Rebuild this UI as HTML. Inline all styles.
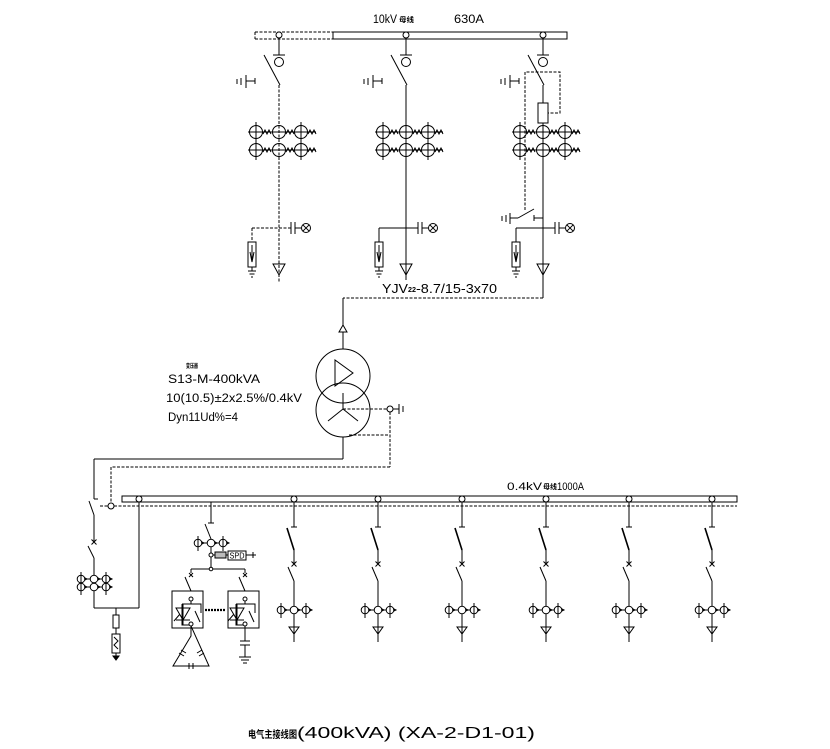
<!DOCTYPE html>
<html><head><meta charset="utf-8">
<style>
html,body{margin:0;padding:0;background:#fff;}
svg{display:block;}
text{font-family:"Liberation Sans","Noto Sans CJK SC",sans-serif;fill:#000;stroke:none;}
</style></head><body>
<svg width="830" height="749" viewBox="0 0 830 749" xmlns="http://www.w3.org/2000/svg">
<defs>
  <g id="ct">
    <line x1="-31" y1="0" x2="37" y2="0"/>
    <circle cx="-23" cy="0" r="6.5"/>
    <circle cx="0" cy="0" r="6.5"/>
    <circle cx="22" cy="0" r="6.5"/>
    <line x1="-23" y1="-10" x2="-23" y2="10"/>
    <line x1="22" y1="-10" x2="22" y2="10"/>
    <polyline points="-16,2 -14,-2 -12,2 -10,-2 -8,2"/>
    <polyline points="7,2 9,-2 11,2 13,-2 15,2"/>
    <polyline points="29,2 31,-2 33,2 35,-2 37,2"/>
  </g>
  <g id="tf">
    <circle cx="0" cy="35" r="3" fill="#fff"/>
    <line x1="0" y1="38" x2="0" y2="55"/>
    <line x1="-6" y1="55" x2="6" y2="55"/>
    <circle cx="0" cy="62" r="4.5"/>
    <line x1="-15" y1="55" x2="1" y2="85"/>
    <path d="M-42,79v5 M-38,78v7 M-33,75v13 M-33,81h9 M-24,78v6"/>
    <use href="#ct" y="132"/>
    <use href="#ct" y="150"/>
    <path d="M12,222v12 M16,222v12 M16,228h6"/>
    <circle cx="27" cy="228" r="4.5"/>
    <path d="M23.8,224.8l6.4,6.4 M30.2,224.8l-6.4,6.4"/>
    <rect x="-31" y="242" width="8" height="25"/>
    <path d="M-27,245v17 M-29,252l2,10 2,-10"/>
    <path d="M-27,267v4 M-31,271h8 M-29.5,274h5 M-28,277h2"/>
    <path d="M-6,264h12l-6,11z"/>
  </g>
  <g id="sct">
    <line x1="-17" y1="0" x2="16" y2="0"/>
    <circle cx="-13" cy="0" r="3.8" fill="#fff"/>
    <circle cx="0" cy="0" r="3.8" fill="#fff"/>
    <circle cx="12" cy="0" r="3.8" fill="#fff"/>
    <line x1="-13" y1="-7" x2="-13" y2="8"/>
    <line x1="12" y1="-7" x2="12" y2="8"/>
    <path d="M-9,-1l2,1 -2,1z M4,-1l2,1 -2,1z M16,-1l2,1 -2,1z" fill="#000"/>
  </g>
  <g id="lf">
    <line x1="0" y1="502" x2="0" y2="527"/>
    <line x1="-3" y1="527" x2="3" y2="527"/>
    <line x1="-7" y1="528" x2="0" y2="550" stroke-width="1.6"/>
    <line x1="0" y1="550" x2="0" y2="564"/>
    <path d="M-2.5,561.5l5,5 M2.5,561.5l-5,5"/>
    <line x1="-6" y1="567" x2="0" y2="581"/>
    <line x1="0" y1="581" x2="0" y2="642"/>
    <use href="#sct" y="610"/>
    <path d="M-5,627h10l-5,7z"/>
    <circle cx="0" cy="499" r="3" fill="#fff"/>
  </g>
  <g id="thy">
    <circle cx="0" cy="8" r="2"/>
    <circle cx="0" cy="33" r="2"/>
    <path d="M0,10v3 M-9,13h19v9 M-9,13v21h7"/>
    <path d="M-15,17h14l-7,12z M-15,29h14 M-8,13v21 M-17,30l6,-7"/>
    <path d="M4,20l5,11"/>
  </g>
</defs>

<g stroke="#000" fill="none" stroke-width="1">
  <path d="M255,32H333 M255,39H333 M255,32V39" stroke-dasharray="3 1.5"/>
  <rect x="333" y="32" width="234" height="7"/>

  <use href="#tf" x="279"/>
  <use href="#tf" x="406"/>
  <use href="#tf" x="543"/>
  <path d="M279,85V282 M252,228H291 M252,228V242" stroke-dasharray="3 1.5"/>
  <path d="M406,85V280 M379,228H418 M379,228V242"/>
  <path d="M543,85V298 M516,228H555 M516,228V242"/>
  <rect x="538" y="103" width="10" height="20" fill="#fff"/>
  <polyline points="525,210 525,72 560,72 560,113 548,113" stroke-dasharray="3 1.5"/>
  <path d="M502,216v5 M506,215v7 M510,213v11 M510,218h8"/>
  <line x1="518" y1="218" x2="534" y2="209"/>
  <path d="M534,215v6 M534,218h9"/>

  <path d="M543,298H343" stroke-dasharray="3 1.5"/>
  <path d="M343,298V349"/>
  <path d="M339,332h8l-4,-7z" fill="#fff"/>

  <circle cx="343" cy="376" r="27"/>
  <circle cx="343" cy="410" r="27"/>
  <path d="M335,360V386L353,373Z"/>
  <path d="M343,393V409 M343,409L328,421 M343,409L358,421"/>
  <path d="M343,409H387" stroke-dasharray="3 1.5"/>
  <circle cx="390" cy="409" r="3" fill="#fff"/>
  <path d="M393,409H399 M399,404V414 M403,406V412"/>
  <path d="M349,435H390 M390,412V467 M390,467H111 M111,467V503" stroke-dasharray="3 1.5"/>
  <path d="M343,437V459 M343,459H94 M94,459V499 M94,499H98"/>

  <rect x="122" y="496" width="615" height="6"/>
  <path d="M100,506H108 M114,506H737" stroke-dasharray="3 1.5"/>
  <circle cx="111" cy="506" r="3" fill="#fff"/>

  <line x1="89" y1="501" x2="94" y2="515"/>
  <line x1="94" y1="515" x2="94" y2="542"/>
  <path d="M91.5,539.5l5,5 M96.5,539.5l-5,5"/>
  <line x1="88" y1="546" x2="94" y2="558"/>
  <line x1="94" y1="558" x2="94" y2="608"/>
  <use href="#sct" x="94" y="579"/>
  <use href="#sct" x="94" y="587"/>
  <path d="M94,608H139 M139,502V608"/>
  <circle cx="139" cy="499" r="3" fill="#fff"/>
  <path d="M116,608V615"/>
  <rect x="113" y="615" width="6" height="13"/>
  <path d="M116,628V634"/>
  <rect x="112" y="634" width="8" height="19"/>
  <path d="M114,637l4,4 -4,4 4,4"/>
  <path d="M116,653V656"/>
  <path d="M113,656h6l-3,4z" fill="#000"/>

  <path d="M211,502V523 M208,523H214"/>
  <line x1="205" y1="524" x2="211" y2="539"/>
  <line x1="211" y1="539" x2="211" y2="569"/>
  <use href="#sct" x="211" y="543"/>
  <circle cx="211" cy="555" r="2" fill="#fff"/>
  <path d="M213,555H215 M226,555H228 M246,555H256 M253,552V558"/>
  <rect x="215" y="552" width="11" height="6" fill="#bbb"/>
  <rect x="228" y="551" width="18" height="9" fill="#fff"/>
  <text x="229.5" y="558.5" font-size="8" textLength="15" lengthAdjust="spacingAndGlyphs">SPD</text>
  <path d="M191,569H245"/>
  <circle cx="211" cy="569" r="1.8" fill="#fff"/>
  <path d="M191,569V573 M245,569V573"/>
  <path d="M189,573l4,4 M193,573l-4,4 M243,573l4,4 M247,573l-4,4"/>
  <line x1="185" y1="577" x2="191" y2="591"/>
  <line x1="239" y1="577" x2="245" y2="591"/>
  <rect x="172" y="591" width="31" height="37"/>
  <rect x="228" y="591" width="31" height="37"/>
  <use href="#thy" x="191" y="591"/>
  <use href="#thy" x="245" y="591"/>
  <path d="M205,610H225" stroke-width="2.2" stroke-dasharray="2 1"/>
  <path d="M191,626V636 L173,666 H209 Z"/>
  <path d="M179,653l5,3 M181,650l5,3 M197,653l5,-3 M199,656l5,-3"/>
  <path d="M189,663v6 M193,663v6" />
  <path d="M245,626V641 M240,641H250 M240,645H250 M245,645V657 M239,657H251 M241,660H249 M243,663H247"/>

  <use href="#lf" x="294"/>
  <use href="#lf" x="378"/>
  <use href="#lf" x="462"/>
  <use href="#lf" x="546"/>
  <use href="#lf" x="629"/>
  <use href="#lf" x="712"/>
</g>

<text x="373" y="23" font-size="11.5" textLength="24" lengthAdjust="spacingAndGlyphs">10kV</text>
<text x="399" y="22" font-size="7" font-weight="bold" textLength="15" lengthAdjust="spacingAndGlyphs">母线</text>
<text x="454" y="23" font-size="11.5" textLength="30" lengthAdjust="spacingAndGlyphs">630A</text>
<text x="382" y="293" font-size="12.5" textLength="26" lengthAdjust="spacingAndGlyphs">YJV</text>
<text x="408" y="292" font-size="7" font-weight="bold" textLength="8" lengthAdjust="spacingAndGlyphs">22</text>
<text x="416" y="293" font-size="12.5" textLength="81" lengthAdjust="spacingAndGlyphs">-8.7/15-3x70</text>
<text x="186" y="368" font-size="6" font-weight="bold" textLength="12" lengthAdjust="spacingAndGlyphs">变压器</text>
<text x="168" y="383" font-size="11.5" textLength="92" lengthAdjust="spacingAndGlyphs">S13-M-400kVA</text>
<text x="166" y="402" font-size="11.5" textLength="136" lengthAdjust="spacingAndGlyphs">10(10.5)±2x2.5%/0.4kV</text>
<text x="168" y="421" font-size="11.5" textLength="70" lengthAdjust="spacingAndGlyphs">Dyn11Ud%=4</text>
<text x="507" y="490" font-size="11" textLength="35" lengthAdjust="spacingAndGlyphs">0.4kV</text>
<text x="543" y="489" font-size="7" font-weight="bold" textLength="14" lengthAdjust="spacingAndGlyphs">母线</text>
<text x="557" y="490" font-size="11" textLength="27" lengthAdjust="spacingAndGlyphs">1000A</text>
<text x="248" y="738" font-size="10" font-weight="bold" textLength="49" lengthAdjust="spacingAndGlyphs">电气主接线图</text>
<text x="297" y="738" font-size="16" textLength="238" lengthAdjust="spacingAndGlyphs">(400kVA) (XA-2-D1-01)</text>
</svg>
</body></html>
